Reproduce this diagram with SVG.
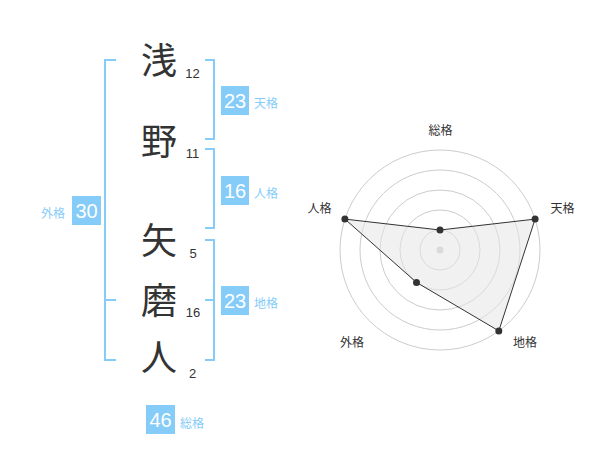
<svg xmlns="http://www.w3.org/2000/svg" width="600" height="470" viewBox="0 0 600 470">
<style>
.k{font-family:"Noto Sans CJK JP","Noto Sans CJK SC",sans-serif;font-size:36px;fill:#333;text-anchor:middle}
.n{font-family:"Liberation Sans",Arial,sans-serif;font-size:13px;fill:#333;text-anchor:middle}
.br{fill:none;stroke:#85ccf9;stroke-width:2}
.box{fill:#85ccf9}
.bn{font-family:"Liberation Sans",Arial,sans-serif;font-size:20px;fill:#fff;text-anchor:middle}
.bl{font-family:"Noto Sans CJK JP","Noto Sans CJK SC",sans-serif;font-size:12px;fill:#85ccf9}
.rl{font-family:"Noto Sans CJK JP","Noto Sans CJK SC",sans-serif;font-size:12px;fill:#333;text-anchor:middle}
.ring{fill:none;stroke:#ccc;stroke-width:1}
.dot{fill:#333}
</style>
<rect width="600" height="470" fill="#fff"/>
<g id="connectors">
<path class="br" d="M116,60 H105 V360 H116 M105,300 H116"/>
<path class="br" d="M205,60 H214 V139 H205"/>
<path class="br" d="M205,149 H214 V228 H205"/>
<path class="br" d="M205,240 H214 V360 H205 M205,300 H214"/>
</g>
<g id="char1"><text class="k" x="159" y="74">浅</text><text class="n" x="192.5" y="78">12</text></g>
<g id="char2"><text class="k" x="159" y="155">野</text><text class="n" x="192.5" y="158">11</text></g>
<g id="char3"><text class="k" x="159" y="254">矢</text><text class="n" x="193" y="258">5</text></g>
<g id="char4"><text class="k" x="159" y="314">磨</text><text class="n" x="193" y="317">16</text></g>
<g id="char5"><text class="k" x="159" y="371">人</text><text class="n" x="192.5" y="378">2</text></g>
<g id="tenkaku"><rect class="box" x="221" y="86" width="28" height="29"/><text class="bn" x="235" y="108">23</text><text class="bl" x="254" y="108">天格</text></g>
<g id="jinkaku"><rect class="box" x="221" y="176" width="28" height="29"/><text class="bn" x="235" y="198">16</text><text class="bl" x="254" y="198">人格</text></g>
<g id="chikaku"><rect class="box" x="221" y="286" width="28" height="29"/><text class="bn" x="235" y="308">23</text><text class="bl" x="254" y="308">地格</text></g>
<g id="gaikaku"><rect class="box" x="72" y="196" width="29" height="29"/><text class="bn" x="86.5" y="218">30</text><text class="bl" x="41" y="218">外格</text></g>
<g id="soukaku"><rect class="box" x="146" y="405" width="29" height="29"/><text class="bn" x="160.5" y="427">46</text><text class="bl" x="180" y="428">総格</text></g>
<g id="radar">
<circle class="ring" cx="440" cy="250" r="20"/>
<circle class="ring" cx="440" cy="250" r="40"/>
<circle class="ring" cx="440" cy="250" r="60"/>
<circle class="ring" cx="440" cy="250" r="80"/>
<circle class="ring" cx="440" cy="250" r="100"/>
<circle cx="440" cy="250" r="3.5" fill="#ccc"/>
<polygon points="440,230 535.1,219.1 498.8,330.9 416.5,282.4 344.9,219.1" fill="#e6e6e6" fill-opacity="0.55" stroke="#333" stroke-width="1"/>
<circle class="dot" cx="440" cy="230" r="3.5"/>
<circle class="dot" cx="535.1" cy="219.1" r="3.5"/>
<circle class="dot" cx="498.8" cy="330.9" r="3.5"/>
<circle class="dot" cx="416.5" cy="282.4" r="3.5"/>
<circle class="dot" cx="344.9" cy="219.1" r="3.5"/>
<text class="rl" x="440.5" y="135">総格</text>
<text class="rl" x="562.5" y="213">天格</text>
<text class="rl" x="319.5" y="213">人格</text>
<text class="rl" x="352" y="347">外格</text>
<text class="rl" x="525" y="347">地格</text>
</g>
</svg>
